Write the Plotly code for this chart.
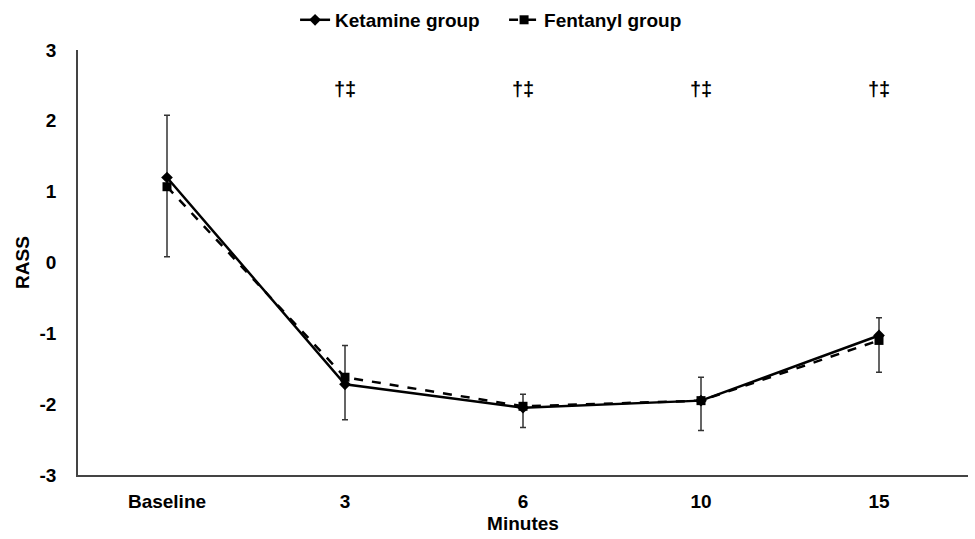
import plotly.graph_objects as go

categories = ["Baseline", "3", "6", "10", "15"]
ketamine = [1.2, -1.72, -2.05, -1.95, -1.03]
fentanyl = [1.07, -1.62, -2.03, -1.95, -1.1]
# error bar bounds (drawn on ketamine series)
err_upper = [2.08, -1.17, -1.86, -1.62, -0.78]
err_lower = [0.08, -2.22, -2.33, -2.37, -1.55]
sig_labels = ["", "†‡", "†‡", "†‡", "†‡"]
sig_y = 2.45
y_ticks = [-3, -2, -1, 0, 1, 2, 3]

font_family = "Liberation Sans, Arial, sans-serif"
FS = 19

fig = go.Figure()
fig.add_trace(go.Scatter(
    x=categories, y=ketamine, name="<b>Ketamine group</b>", mode="lines+markers",
    line=dict(color="black", width=2.5),
    marker=dict(symbol="diamond", size=9, color="black"),
    error_y=dict(type="data", symmetric=False,
                 array=[u - v for u, v in zip(err_upper, ketamine)],
                 arrayminus=[v - l for v, l in zip(ketamine, err_lower)],
                 color="#333333", thickness=1.5, width=3),
))
fig.add_trace(go.Scatter(
    x=categories, y=fentanyl, name="<b>Fentanyl group</b>", mode="lines+markers",
    line=dict(color="black", width=2.5, dash="dash"),
    marker=dict(symbol="square", size=9, color="black"),
))

for i, s in enumerate(sig_labels):
    if s:
        fig.add_annotation(x=i, y=sig_y, text="<b>" + s + "</b>", showarrow=False,
                           font=dict(size=20, color="black", family=font_family))

fig.update_layout(
    width=975, height=539,
    margin=dict(l=78, r=7, t=50, b=64, autoexpand=False),
    plot_bgcolor="white", paper_bgcolor="white",
    font=dict(family=font_family, size=FS, color="black"),
    showlegend=True,
    legend=dict(orientation="h", x=0.517, xanchor="center", xref="container",
                y=0.963, yanchor="middle", yref="container",
                font=dict(size=FS, family=font_family), entrywidth=164,
                tracegroupgap=0, bgcolor="rgba(0,0,0,0)"),
    xaxis=dict(
        type="category", range=[-0.5, 4.5], showline=True, linecolor="#444444", linewidth=1.5,
        ticks="", showgrid=False, zeroline=False, automargin=False,
        tickfont=dict(size=FS, family=font_family), ticklabelstandoff=8,
        title=dict(text="<b>Minutes</b>", font=dict(size=FS), standoff=6),
        tickprefix="<b>", ticksuffix="</b>",
    ),
    yaxis=dict(
        range=[-3, 3], showline=True, linecolor="#444444", linewidth=1.5,
        tickvals=y_ticks, ticktext=["<b>%d</b>" % v for v in y_ticks],
        ticks="", showgrid=False, zeroline=False, automargin=False,
        tickfont=dict(size=FS, family=font_family), ticklabelstandoff=16,
        title=dict(text="<b>RASS</b>", font=dict(size=FS), standoff=5),
    ),
)

fig.write_html("out.html", config={"displayModeBar": False},
               post_script="document.body.style.margin='0';")
